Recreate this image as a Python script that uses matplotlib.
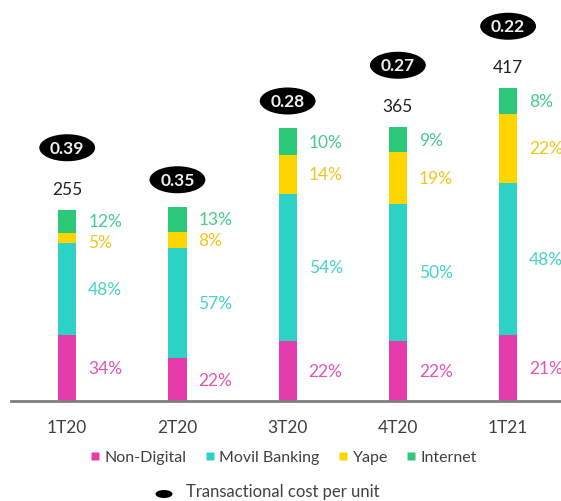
import matplotlib
matplotlib.use("Agg")
import matplotlib.pyplot as plt
from matplotlib.patches import Ellipse
from matplotlib.lines import Line2D
import numpy as np

plt.rcParams['font.family'] = ['Lato', 'DejaVu Sans']

# Quarterly transactions by channel
quarters = ["1T20", "2T20", "3T20", "4T20", "1T21"]
channels = ["Non-Digital", "Movil Banking", "Yape", "Internet"]
totals = [255, 259, 364, 365, 417]
total_labels = ["255", "", "", "365", "417"]
share_non_digital = [34, 22, 22, 22, 21]
share_movil = [48, 57, 54, 50, 48]
share_yape = [5, 8, 14, 19, 22]
share_internet = [12, 13, 10, 9, 8]
cost_per_unit = [0.39, 0.35, 0.28, 0.27, 0.22]

shares = [share_non_digital, share_movil, share_yape, share_internet]
bar_colors = ["#E63BAA", "#2DD2C6", "#FFD500", "#2CC97A"]
text_colors = ["#E055B5", "#45D3C8", "#F2C51C", "#45CC8A"]

fig = plt.figure(figsize=(5.61, 5.02), dpi=100)
ax = fig.add_axes([11 / 561, 1 - 402 / 502, 550 / 561, 402 / 502])
ax.set_xlim(-0.51, 4.48)
ax.set_ylim(0, 536)

x = np.arange(len(quarters))
width = 0.165

# pixels per data unit (vertical)
ppu = 402 / 536

for i in range(len(quarters)):
    total = totals[i]
    ssum = sum(s[i] for s in shares)
    bottom = 0.0
    label_ys = []
    for k, s in enumerate(shares):
        h = total * s[i] / ssum
        ax.bar(x[i], h, width=width, bottom=bottom, color=bar_colors[k],
               linewidth=0)
        label_ys.append(bottom + h / 2)
        bottom += h
    # keep labels of thin segments apart (top-down)
    min_gap = 21 / ppu
    for k in range(len(label_ys) - 2, -1, -1):
        if label_ys[k + 1] - label_ys[k] < min_gap:
            label_ys[k] = label_ys[k + 1] - min_gap
    for k, s in enumerate(shares):
        ax.text(x[i] + 0.19, label_ys[k], f"{s[i]}%", color=text_colors[k],
                fontsize=12.5, ha="left", va="center")
    top = total
    if total_labels[i]:
        ax.text(x[i], top + 21 / ppu, total_labels[i], ha="center",
                va="center", fontsize=12.5, color="#222222")
        ey = top + 62 / ppu
    else:
        ey = top + 27 / ppu
    ell = Ellipse((x[i], ey), width=56 / 110.5, height=27 / ppu,
                  facecolor="black", edgecolor="none", clip_on=False)
    ax.add_patch(ell)
    ax.text(x[i], ey, f"{cost_per_unit[i]:.2f}", color="#EEEEEE",
            fontsize=12.5, fontweight="bold", ha="center", va="center")

for side in ["top", "right", "left"]:
    ax.spines[side].set_visible(False)
ax.spines["bottom"].set_color("#7F7F7F")
ax.spines["bottom"].set_linewidth(2)
ax.set_yticks([])
ax.set_xticks(x)
ax.set_xticklabels(quarters, fontsize=12.5, color="#404040")
ax.tick_params(axis="x", length=0, pad=13)

handles = [Line2D([], [], marker="s", linestyle="none", markersize=6,
                  markerfacecolor=c, markeredgecolor="none") for c in bar_colors]
fig.legend(handles, channels, loc="center", bbox_to_anchor=(0.505, 1 - 458 / 502),
           ncol=4, frameon=False, fontsize=11.5, handletextpad=0.25,
           handlelength=0.7, columnspacing=1.1, labelcolor="#404040")

fig.add_artist(Ellipse((164 / 561, 1 - 495 / 502), width=17 / 561, height=8 / 502,
                       facecolor="black", edgecolor="none",
                       transform=fig.transFigure))
fig.text(186 / 561, 1 - 492 / 502, "Transactional cost per unit", fontsize=12,
         color="#404040", ha="left", va="center")

fig.savefig("out.png", dpi=100)
